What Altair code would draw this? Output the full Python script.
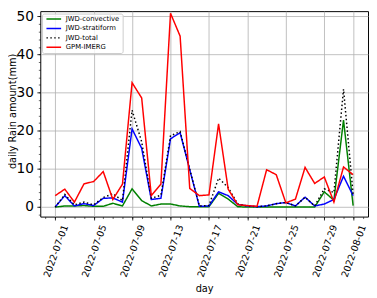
import altair as alt
import pandas as pd

days = pd.date_range("2022-07-01", "2022-08-01", freq="D").strftime("%Y-%m-%d").tolist()

convective = [0.0, 0.3, 0.3, 0.4, 0.2, 0.2, 1.0, 0.3, 4.8, 1.7, 0.3, 0.8, 0.8, 0.3, 0.1, 0.1,
              0.1, 3.6, 2.1, 0.1, 0.0, 0.0, 0.0, 0.0, 0.0, 0.0, 0.0, 0.0, 4.0, 1.8, 22.8, 0.4]
stratiform = [0.0, 3.0, 0.3, 0.9, 0.4, 2.3, 2.4, 1.3, 20.5, 15.4, 2.0, 2.3, 17.9, 19.5, 9.8, 0.2,
              0.3, 4.0, 3.0, 0.7, 0.3, 0.1, 0.3, 0.9, 1.2, 0.3, 2.6, 0.3, 0.8, 2.0, 8.1, 3.0]
total = [0.0, 3.3, 0.6, 1.3, 0.6, 2.5, 3.5, 1.7, 25.4, 17.1, 2.3, 3.1, 18.7, 19.8, 9.9, 0.3,
         0.4, 7.6, 5.1, 0.8, 0.3, 0.1, 0.3, 0.9, 1.2, 0.3, 2.6, 0.3, 4.8, 3.8, 30.9, 3.4]
imerg = [3.0, 4.7, 1.3, 6.1, 6.7, 9.3, 2.0, 6.0, 32.6, 28.6, 3.0, 6.0, 50.8, 44.8, 4.9, 3.0,
         3.2, 21.8, 4.7, 0.6, 0.4, 0.2, 9.8, 8.5, 1.1, 2.1, 10.4, 6.2, 7.9, 1.3, 10.5, 8.5]

series_names = ["JWD-convective", "JWD-stratiform", "JWD-total", "GPM-IMERG"]
series_values = [convective, stratiform, total, imerg]
colors = ["green", "blue", "black", "red"]
dashes = [[1, 0], [1, 0], [1.5, 2.475], [1, 0]]

major_days = ["2022-07-01", "2022-07-05", "2022-07-09", "2022-07-13", "2022-07-17",
              "2022-07-21", "2022-07-25", "2022-07-29", "2022-08-01"]
y_major = [0, 10, 20, 30, 40, 50]
y_minor = list(range(-2, 53, 2))

rows = []
for name, vals in zip(series_names, series_values):
    for d, v in zip(days, vals):
        rows.append({"day": d, "series": name, "value": v})
df = pd.DataFrame(rows)


def ms(s):
    return int(pd.Timestamp(s, tz="UTC").value // 10**6)


DAY = 86400000
x_dom = [ms("2022-07-01") - 1.55 * DAY, ms("2022-08-01") + 1.55 * DAY]
x_major = [ms(d) for d in major_days]
x_minor = [ms(d) for d in pd.date_range("2022-06-30", "2022-08-02", freq="D").strftime("%Y-%m-%d")]
y_dom = [-2.49, 51.36]

xscale = alt.Scale(type="utc", domain=x_dom)
yscale = alt.Scale(domain=y_dom, nice=False, zero=False)
cscale = alt.Scale(domain=series_names, range=colors)
dscale = alt.Scale(domain=series_names, range=dashes)

main = alt.Chart(df).mark_line(strokeWidth=1.5, clip=True).encode(
    x=alt.X("day:T", scale=xscale, axis=alt.Axis(
        orient="bottom", values=x_major, labelExpr="utcFormat(datum.value, '%Y-%m-%d')",
        labelAngle=-70, labelAlign="right", labelBaseline="middle", labelFontSize=9.7,
        labelOffset=10, labelPadding=5, labelFlush=False, labelOverlap=False,
        tickSize=3.5, tickColor="black", tickWidth=0.8, labelColor="black",
        grid=True, gridColor="#b0b0b0", gridWidth=0.8, domain=False,
        title="day", titleFontSize=10, titleFontWeight="normal", titleColor="black",
        titleY=77, titleBaseline="alphabetic")),
    y=alt.Y("value:Q", scale=yscale, axis=alt.Axis(
        orient="left", values=y_major, labelFontSize=14, labelPadding=3.5, labelColor="black",
        labelOverlap=False, labelFlush=False,
        tickSize=3.5, tickColor="black", tickWidth=0.8,
        grid=True, gridColor="#b0b0b0", gridWidth=0.8, domain=False,
        title="daily Rain amount(mm)", titleFontSize=10, titleFontWeight="normal",
        titleColor="black", titleX=-25, titleY=102, titleAngle=270,
        titleAlign="center", titleBaseline="alphabetic")),
    color=alt.Color("series:N", scale=cscale, legend=None),
    strokeDash=alt.StrokeDash("series:N", scale=dscale, legend=None),
)

minor = alt.Chart(df).mark_line(opacity=0).encode(
    x=alt.X("day:T", scale=xscale, axis=alt.Axis(
        orient="bottom", values=x_minor, labels=False, tickSize=2, tickColor="black",
        tickWidth=0.6, grid=False, domain=False, title=None)),
    y=alt.Y("value:Q", scale=yscale, axis=alt.Axis(
        orient="left", values=y_minor, labels=False, tickSize=2, tickColor="black",
        tickWidth=0.6, grid=False, domain=False, title=None)),
    detail="series:N",
)

legend_df = pd.DataFrame({"series": series_names, "rank": [0, 1, 2, 3]})
lscale = alt.Scale(domain=[0, 3], range=[8, 37])

box = alt.Chart(pd.DataFrame({"a": [0]})).mark_rect(
    fill="white", fillOpacity=0.8, stroke="#cccccc", strokeWidth=1, cornerRadius=2
).encode(x=alt.value(2.3), x2=alt.value(84.7), y=alt.value(3), y2=alt.value(43.3))

leg_lines = alt.Chart(legend_df).mark_rule(strokeWidth=1.5).encode(
    x=alt.value(6.3), x2=alt.value(21.3),
    y=alt.Y("rank:Q", scale=lscale, axis=None),
    color=alt.Color("series:N", scale=cscale, legend=None),
    strokeDash=alt.StrokeDash("series:N", scale=dscale, legend=None),
)

leg_text = alt.Chart(legend_df).mark_text(
    align="left", baseline="middle", fontSize=7, color="black"
).encode(
    x=alt.value(26),
    y=alt.Y("rank:Q", scale=lscale, axis=None),
    text="series:N",
)

chart = alt.layer(main, minor, box, leg_lines, leg_text).resolve_scale(
    y="independent"
).resolve_axis(
    x="independent", y="independent"
).properties(
    width=335, height=210,
    autosize=alt.AutoSizeParams(type="none"),
    padding={"left": 33, "top": 0, "right": 1, "bottom": 80},
    background="white",
).configure(
    font="DejaVu Sans"
).configure_view(
    stroke="black", strokeWidth=1
)

chart.save("out.html", embed_options={"renderer": "svg", "actions": False})
